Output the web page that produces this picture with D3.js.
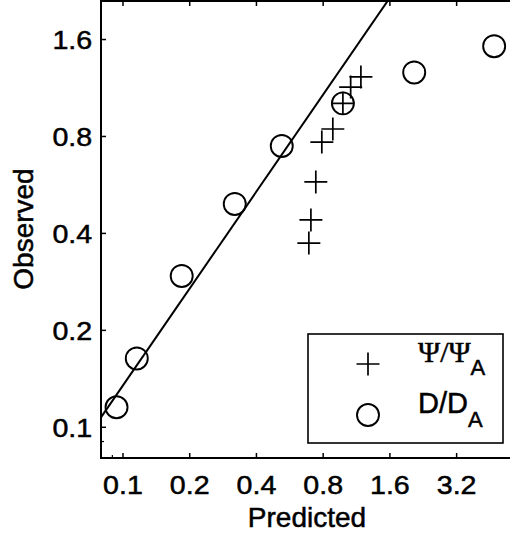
<!DOCTYPE html>
<html>
<head>
<meta charset="utf-8">
<script src="https://cdn.jsdelivr.net/npm/d3@7"></script>
<style>
  body { margin: 0; background: #fff; }
  text { font-family: "Liberation Sans", Arial, sans-serif; fill: #000; stroke: #000; stroke-width: 0.5px; }
</style>
</head>
<body>
<svg width="510" height="535"></svg>
<script>

// D/D_A (circles)
const predictedD = [0.094, 0.116, 0.185, 0.321, 0.523, 0.987, 2.07, 4.75];
const observedD  = [0.115, 0.163, 0.294, 0.492, 0.745, 1.01, 1.26, 1.52];

// Psi/Psi_A (crosses)
const predictedPsi = [0.693, 0.708, 0.745, 0.793, 0.889, 0.987, 1.07, 1.19];
const observedPsi  = [0.372, 0.439, 0.576, 0.766, 0.841, 1.01, 1.135, 1.22];

// fitted line
const fitX = [0.08, 1.6];
const fitY = [0.107, 2.14];

const xTicks = [0.1, 0.2, 0.4, 0.8, 1.6, 3.2];
const yTicks = [0.1, 0.2, 0.4, 0.8, 1.6];
const minorTicks = [0.09];

const svg = d3.select('svg');

const mLeft = 101, mTop = 1, mRight = 510, mBottom = 458;

const x = d3.scaleLog().domain([0.08, 5.6]).range([mLeft, mRight]);
const y = d3.scaleLog().domain([0.08, 2.1]).range([mBottom, mTop]);

svg.append('clipPath').attr('id', 'clip')
  .append('rect')
    .attr('x', mLeft).attr('y', mTop)
    .attr('width', mRight - mLeft).attr('height', mBottom - mTop);

// axes
const xAxis = svg.append('g')
  .attr('transform', `translate(0,${mBottom})`)
  .call(d3.axisBottom(x).tickValues(xTicks).tickFormat(d3.format('.1f')).tickSize(-5).tickSizeOuter(0));
xAxis.select('.domain').remove();
xAxis.selectAll('line').attr('stroke', '#000').attr('stroke-width', 1.5);
xAxis.selectAll('text')
  .attr('y', 36).attr('dy', null)
  .attr('font-size', 26)
  .attr('transform', 'scale(1.1,1)');

const xTop = svg.append('g')
  .attr('transform', `translate(0,${mTop})`)
  .call(d3.axisTop(x).tickValues(xTicks).tickFormat('').tickSize(-5).tickSizeOuter(0));
xTop.select('.domain').remove();
xTop.selectAll('line').attr('stroke', '#000').attr('stroke-width', 1.5);

const yAxis = svg.append('g')
  .attr('transform', `translate(${mLeft},0)`)
  .call(d3.axisLeft(y).tickValues(yTicks).tickFormat(d3.format('.1f')).tickSize(-5).tickSizeOuter(0));
yAxis.select('.domain').remove();
yAxis.selectAll('line').attr('stroke', '#000').attr('stroke-width', 1.5);
yAxis.selectAll('text')
  .attr('x', -8).attr('dy', '0.36em')
  .attr('font-size', 26)
  .attr('transform', 'scale(1.1,1)');

// minor ticks
svg.selectAll('.mx').data(minorTicks).enter().append('line')
  .attr('x1', d => x(d)).attr('x2', d => x(d))
  .attr('y1', mBottom).attr('y2', mBottom - 3)
  .attr('stroke', '#000').attr('stroke-width', 1.2);
svg.selectAll('.my').data(minorTicks).enter().append('line')
  .attr('x1', mLeft).attr('x2', mLeft + 3)
  .attr('y1', d => y(d)).attr('y2', d => y(d))
  .attr('stroke', '#000').attr('stroke-width', 1.2);

// frame
svg.append('path')
  .attr('d', `M${mRight},${mTop}H${mLeft}V${mBottom}H${mRight}`)
  .attr('fill', 'none').attr('stroke', '#000').attr('stroke-width', 2);

// fitted line
const line = d3.line().x(d => x(d[0])).y(d => y(d[1]));
svg.append('path')
  .datum(d3.zip(fitX, fitY))
  .attr('clip-path', 'url(#clip)')
  .attr('d', line)
  .attr('fill', 'none').attr('stroke', '#000').attr('stroke-width', 2);

// circles
svg.selectAll('circle.d')
  .data(d3.zip(predictedD, observedD))
  .enter().append('circle')
    .attr('class', 'd')
    .attr('cx', d => x(d[0]))
    .attr('cy', d => y(d[1]))
    .attr('r', 11)
    .attr('fill', 'none').attr('stroke', '#000').attr('stroke-width', 1.9);

// crosses
const cross = s => `M${-s},0H${s}M0,${-s}V${s}`;
svg.selectAll('path.psi')
  .data(d3.zip(predictedPsi, observedPsi))
  .enter().append('path')
    .attr('class', 'psi')
    .attr('transform', d => `translate(${x(d[0])},${y(d[1])})`)
    .attr('d', cross(11.5))
    .attr('fill', 'none').attr('stroke', '#000').attr('stroke-width', 1.7);

// axis titles
svg.append('text')
  .attr('x', 307).attr('y', 527)
  .attr('text-anchor', 'middle')
  .attr('font-size', 28)
  .text('Predicted');

svg.append('text')
  .attr('transform', 'translate(33,229) rotate(-90)')
  .attr('text-anchor', 'middle')
  .attr('font-size', 28)
  .text('Observed');

// legend
const legend = svg.append('g');
legend.append('rect')
  .attr('x', 308).attr('y', 334)
  .attr('width', 195).attr('height', 109)
  .attr('fill', '#fff').attr('stroke', '#000').attr('stroke-width', 1.6);
legend.append('path')
  .attr('transform', 'translate(368,364)')
  .attr('d', cross(11.5))
  .attr('fill', 'none').attr('stroke', '#000').attr('stroke-width', 1.7);
legend.append('circle')
  .attr('cx', 368).attr('cy', 415).attr('r', 11)
  .attr('fill', 'none').attr('stroke', '#000').attr('stroke-width', 1.9);

const t1 = legend.append('text').attr('x', 418).attr('y', 362).attr('font-size', 30);
t1.append('tspan').attr('font-family', '"Liberation Serif", serif').text('Ψ/Ψ');
t1.append('tspan').attr('font-size', 22).attr('dy', 13).text('A');

const t2 = legend.append('text').attr('x', 418).attr('y', 413).attr('font-size', 29);
t2.append('tspan').text('D/D');
t2.append('tspan').attr('font-size', 22).attr('dy', 14).text('A');

</script>
</body>
</html>
